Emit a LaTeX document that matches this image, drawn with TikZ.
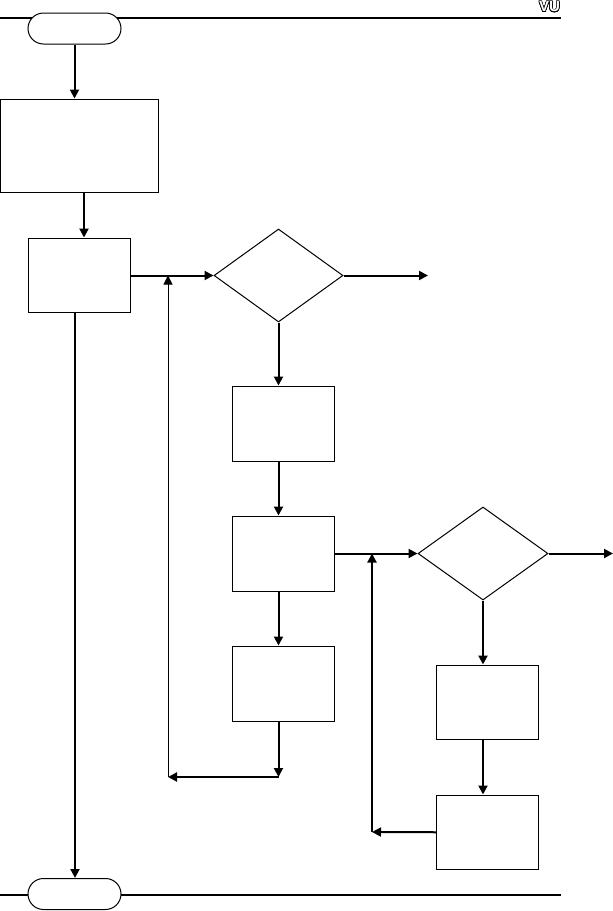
\documentclass[tikz,border=0pt]{standalone}
\usepackage{fontspec}
\setmainfont{Liberation Sans}
\usepackage[copies]{contour}
\usetikzlibrary{arrows.meta,shapes.geometric}
\contourlength{0.55pt}
\tikzset{
  boxnode/.style={draw=black,line width=1pt,fill=white,rectangle,inner sep=0pt,minimum width=#1},
  boxnode/.default=102pt,
  term/.style={draw=black,line width=1pt,fill=white,rectangle,rounded corners=15.5pt,inner sep=0pt,minimum width=93pt,minimum height=31pt},
  dec/.style={draw=black,line width=1pt,fill=white,diamond,aspect=1.4,inner sep=0pt,minimum width=#1,minimum height=93pt},
  flow/.style={line width=2pt,-{Triangle[width=9pt,length=9pt]}},
  thinflow/.style={line width=1pt,-{Triangle[width=9pt,length=9pt]}},
  plain/.style={line width=2pt},
}
\begin{document}
\begin{tikzpicture}[x=1pt,y=-1pt]
\useasboundingbox (0,0) rectangle (613,911);
% header and footer rules
\coordinate (hl) at (0,17.5);
\coordinate (hr) at (561,17.5);
\coordinate (fl) at (0,895);
\coordinate (fr) at (561,895);
\draw[plain] (hl) -- (hr);
\draw[plain] (fl) -- (fr);
\node[inner sep=0pt,font=\bfseries\fontsize{15}{15}\selectfont,anchor=center] (vu) at (549.5,7) {\contour{black}{\textcolor{white}{VU}}};
% nodes
\node[term] (start) at (74.5,28.5) {};
\node[term] (stop) at (74.5,894) {};
\node[boxnode=158pt,minimum height=93pt] (b1) at (79.5,145.5) {};
\node[boxnode,minimum height=74pt] (b2) at (79.5,275) {};
\node[dec=129pt] (d1) at (278.5,275.5) {};
\node[boxnode,minimum height=75pt] (b3) at (283.5,423.5) {};
\node[boxnode,minimum height=75pt] (b4) at (283.5,553.5) {};
\node[boxnode,minimum height=75pt] (b5) at (283.5,683.5) {};
\node[dec=130pt] (d2) at (483,553.5) {};
\node[boxnode,minimum height=74.5pt] (b6) at (487.5,702.25) {};
\node[boxnode,minimum height=74.5pt] (b7) at (487.5,832.25) {};
% free ends and bends
\coordinate (d1out) at (428,275.5);
\coordinate (d2out) at (613,553.5);
\coordinate (c1) at (278.5,777);
\coordinate (c2) at (168,777);
\coordinate (c3) at (168,275.5);
\coordinate (c4) at (372,832);
\coordinate (c5) at (372,553.5);
\coordinate (x84) at (84,192);
\coordinate (x75) at (75,312);
% connectors
\draw[flow] (start.south) -- (start.south |- b1.north);
\draw[flow] (x84) -- (x84 |- b2.north);
\draw[flow] (d1.west -| b2.east) -- (d1.west);
\draw[flow] (d1.east) -- (d1out);
\draw[flow] (d1.south) -- (d1.south |- b3.north);
\draw[flow] (d1.south |- b3.south) -- (d1.south |- b4.north);
\draw[flow] (d1.south |- b4.south) -- (d1.south |- b5.north);
\draw[flow] (d1.south |- b5.south) -- (c1);
\draw[flow] (c1) -- (c2);
\draw[thinflow] (c2) -- (c3);
\draw[flow] (b4.east) -- (d2.west);
\draw[flow] (d2.east) -- (d2out);
\draw[flow] (d2.south) -- (d2.south |- b6.north);
\draw[flow] (d2.south |- b6.south) -- (d2.south |- b7.north);
\draw[flow] (b7.west) -- (c4);
\draw[flow] (c4) -- (c5);
\draw[flow] (x75) -- (x75 |- stop.north);
\end{tikzpicture}
\end{document}
